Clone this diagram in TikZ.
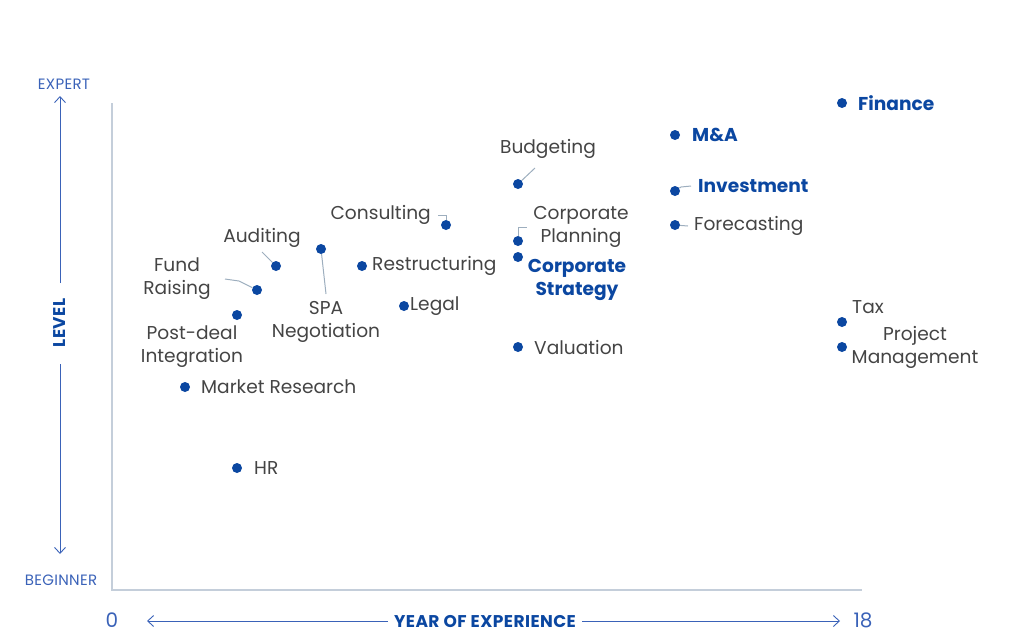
\documentclass[tikz,border=0pt]{standalone}
\usepackage{fontspec}
\setmainfont{Poppins}
\usetikzlibrary{arrows.meta}

\definecolor{dotblue}{HTML}{0B47A1}
\definecolor{axisblue}{HTML}{3A62B8}
\definecolor{txtgray}{HTML}{444444}
\definecolor{gridgray}{HTML}{C4CEDA}
\definecolor{leadgray}{HTML}{9DAEBE}

\tikzset{
  dot/.style={circle, fill=dotblue, inner sep=0pt, minimum size=10pt},
  lbl/.style={text=txtgray, font=\fontsize{18.6}{23}\selectfont, inner sep=0pt, align=center},
  keylbl/.style={text=dotblue, font=\fontsize{18.6}{23}\selectfont\bfseries, inner sep=0pt, align=center},
  axlbl/.style={text=axisblue, font=\fontsize{15}{17}\selectfont\addfontfeature{LetterSpace=2}, inner sep=0pt},
  axtitle/.style={text=dotblue, font=\fontsize{17}{19}\selectfont\bfseries\addfontfeature{LetterSpace=2.5}, inner sep=0pt},
  lead/.style={leadgray, line width=1pt},
  axarrow/.style={axisblue, line width=0.9pt, -{Straight Barb[length=6pt,width=11pt]}}
}

\begin{document}
\begin{tikzpicture}[x=1pt, y=-1pt]
      \useasboundingbox (0,0) rectangle (1024,643);
      % frame
      \coordinate (o) at (112,590);
      \coordinate (top) at (112,103);
      \coordinate (right) at (862,590);
      \draw[gridgray, line width=1.3pt] (top) -- (o) -- (right);
      % level axis
      \node[axlbl] (expert) at (64,84) {EXPERT};
      \node[axlbl] (beginner) at (61,580) {BEGINNER};
      \node[axtitle, rotate=90] (level) at (60,323) {LEVEL};
      \draw[axarrow] (60,283) -- (60,96);
      \draw[axarrow] (60,364) -- (60,554);
      % experience axis
      \node[axlbl, font=\fontsize{20}{22}\selectfont] (zero) at (112,620) {0};
      \node[axlbl, font=\fontsize{20}{22}\selectfont] (max) at (863,620) {18};
      \node[axtitle] (years) at (485,621) {YEAR OF EXPERIENCE};
      \draw[axarrow] (years.west) ++(-6,0) -- (147,621);
      \draw[axarrow] (years.east) ++(6,0) -- (840,621);
      % skills
      \node[dot] (fin) at (842,103) {};
      \node[keylbl, anchor=west] (fin-l) at (858,103) {Finance};
      \node[dot] (ma) at (675,135) {};
      \node[keylbl, anchor=west] (ma-l) at (692,135) {M\&A};
      \node[dot] (inv) at (675,191) {};
      \node[keylbl, anchor=west] (inv-l) at (698,186) {Investment};
      \node[dot] (fcst) at (675,225) {};
      \node[lbl, anchor=west] (fcst-l) at (694,226) {Forecasting};
      \node[dot] (bud) at (518,184) {};
      \node[lbl] (bud-l) at (548,149) {Budgeting};
      \node[dot] (cons) at (446,225) {};
      \node[lbl, anchor=east] (cons-l) at (431,215) {Consulting};
      \node[dot] (cplan) at (518,241) {};
      \node[lbl] (cplan-l) at (581,227) {Corporate\\Planning};
      \node[dot] (cstrat) at (518,257) {};
      \node[keylbl] (cstrat-l) at (577,280) {Corporate\\Strategy};
      \node[dot] (val) at (518,347) {};
      \node[lbl, anchor=west] (val-l) at (534,347) {Valuation};
      \node[dot] (restr) at (362,266) {};
      \node[lbl, anchor=west] (restr-l) at (372,266) {Restructuring};
      \node[dot] (legal) at (404,306) {};
      \node[lbl, anchor=west] (legal-l) at (410,306) {Legal};
      \node[dot] (spa) at (321,249) {};
      \node[lbl] (spa-l) at (326,322) {SPA\\Negotiation};
      \node[dot] (aud) at (276,266) {};
      \node[lbl] (aud-l) at (262,238) {Auditing};
      \node[dot] (fund) at (257,290) {};
      \node[lbl] (fund-l) at (177,279) {Fund\\Raising};
      \node[dot] (pdi) at (237,315) {};
      \node[lbl] (pdi-l) at (192,347) {Post-deal\\Integration};
      \node[dot] (mkt) at (185,387) {};
      \node[lbl, anchor=west] (mkt-l) at (201,387) {Market Research};
      \node[dot] (hr) at (237,468) {};
      \node[lbl, anchor=west] (hr-l) at (254,468) {HR};
      \node[dot] (tax) at (842,322) {};
      \node[lbl, anchor=west] (tax-l) at (852,307) {Tax};
      \node[dot] (pm) at (842,347) {};
      \node[lbl] (pm-l) at (915,347) {Project\\Management};
      % leader lines
      \coordinate (inv-e) at (691,186);
      \coordinate (fcst-e) at (688,226);
      \coordinate (bud-e) at (535,168);
      \coordinate (cons-e) at (438,215);
      \coordinate (cplan-e) at (527,227);
      \coordinate (spa-e) at (326,294);
      \coordinate (aud-e) at (262,252);
      \coordinate (fund-e) at (225,279);
      \draw[lead] (inv) -- ++(6,-4) -- (inv-e);
      \draw[lead] (fcst) -- (fcst-e);
      \draw[lead] (bud) -- (bud-e);
      \draw[lead] (cons) -- ++(0,-10) -- (cons-e);
      \draw[lead] (cplan) -- ++(0,-14) -- (cplan-e);
      \draw[lead] (spa) -- (spa-e);
      \draw[lead] (aud) -- (aud-e);
      \draw[lead] (fund) -- (239,281) -- (fund-e);
    \end{tikzpicture}
\end{document}
